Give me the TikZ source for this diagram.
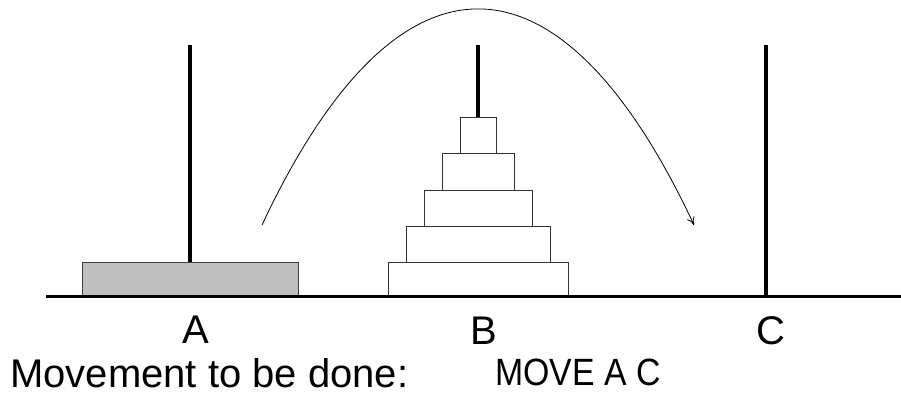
\documentclass[tikz,border=0pt]{standalone}
\usepackage{fontspec}
\setmainfont{Liberation Sans}
\usetikzlibrary{arrows.meta}
\begin{document}
\begin{tikzpicture}[x=1pt,y=-1pt,
  peg/.style={line width=4pt},
  base/.style={line width=3pt},
  disk/.style={draw=black!80, line width=0.9pt, fill=white},
  bigdisk/.style={draw=black!75, line width=0.9pt, fill=black!25},
  lbl/.style={inner sep=0pt, anchor=base, font=\fontsize{40}{40}\selectfont},
  txt/.style={inner sep=0pt, anchor=base west, font=\fontsize{40}{40}\selectfont}]
\useasboundingbox (0,0) rectangle (901,397);
% pegs
\coordinate (pAtop) at (190,45);
\coordinate (pAbot) at (190,262);
\coordinate (pBtop) at (478,45);
\coordinate (pBbot) at (478,117);
\coordinate (pCtop) at (766,45);
\coordinate (pCbot) at (766,296);
\draw[peg] (pAtop) -- (pAbot);
\draw[peg] (pBtop) -- (pBbot);
\draw[peg] (pCtop) -- (pCbot);
% disks
\draw[bigdisk] (82,262) rectangle (298,296);
\draw[disk] (388,262) rectangle (568,296);
\draw[disk] (406,226) rectangle (550,262);
\draw[disk] (424,190) rectangle (532,226);
\draw[disk] (442,153) rectangle (514,190);
\draw[disk] (460,117) rectangle (496,153);
% base line
\coordinate (bl) at (46,296.5);
\coordinate (br) at (901,296.5);
\draw[base] (bl) -- (br);
% move arc
\coordinate (arcS) at (262,225);
\coordinate (arcE) at (694,225);
\draw[line width=0.8pt, -{To[length=8pt,width=8pt]}] (arcS) .. controls (397,-63) and (559,-63) .. (arcE);
% labels
\node[lbl] (la) at (195.5,343) {A};
\node[lbl] (lb) at (483.5,344) {B};
\node[lbl] (lc) at (771,344) {C};
\node[txt] (mv) at (10,387) {Movement to be done:};
\node[txt] (cmd) at (495,385) {\scalebox{0.89}[1]{\fontsize{38}{38}\selectfont MOVE A C}};
\end{tikzpicture}
\end{document}
